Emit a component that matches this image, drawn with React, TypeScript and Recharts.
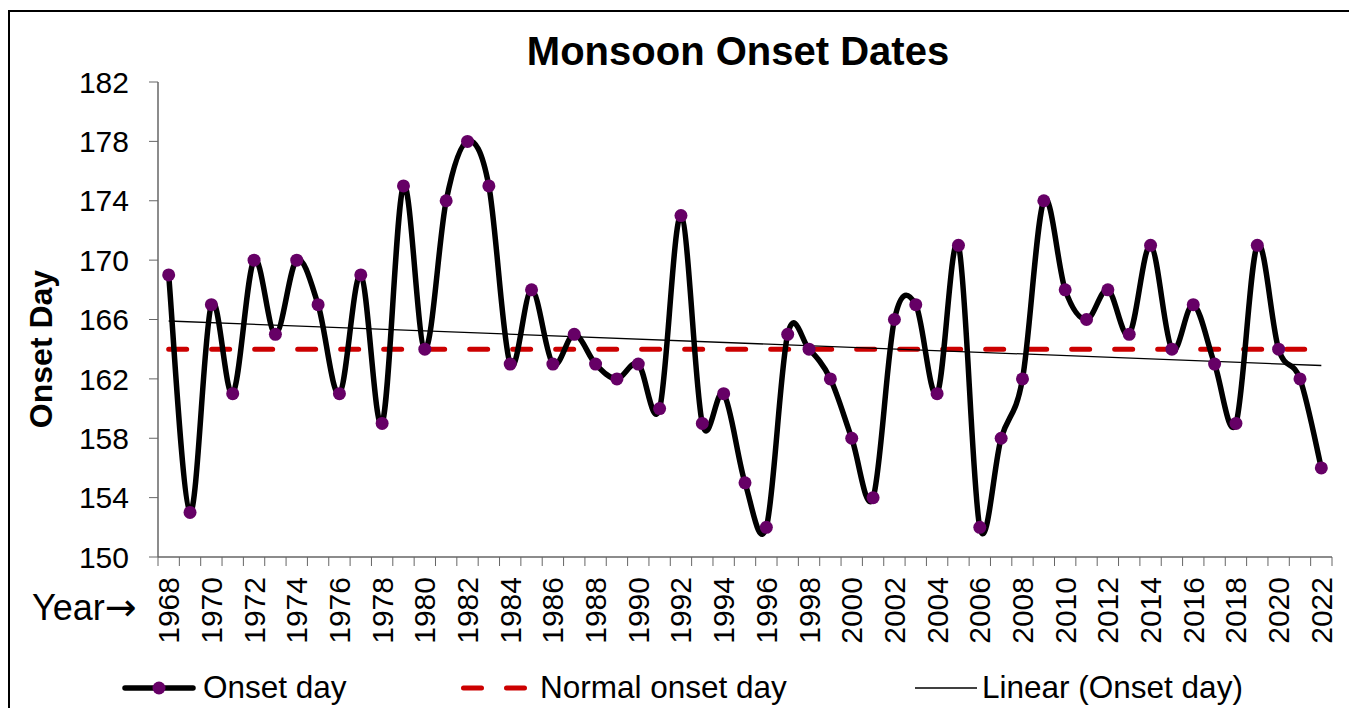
import React from "react";
import { ComposedChart, Line, XAxis, YAxis } from "recharts";

const years = [
  1968, 1969, 1970, 1971, 1972, 1973, 1974, 1975, 1976, 1977, 1978, 1979, 1980, 1981,
  1982, 1983, 1984, 1985, 1986, 1987, 1988, 1989, 1990, 1991, 1992, 1993, 1994, 1995,
  1996, 1997, 1998, 1999, 2000, 2001, 2002, 2003, 2004, 2005, 2006, 2007, 2008, 2009,
  2010, 2011, 2012, 2013, 2014, 2015, 2016, 2017, 2018, 2019, 2020, 2021, 2022,
];

const onsetDays = [
  169, 153, 167, 161, 170, 165, 170, 167, 161, 169, 159, 175, 164, 174,
  178, 175, 163, 168, 163, 165, 163, 162, 163, 160, 173, 159, 161, 155,
  152, 165, 164, 162, 158, 154, 166, 167, 161, 171, 152, 158, 162, 174,
  168, 166, 168, 165, 171, 164, 167, 163, 159, 171, 164, 162, 156,
];

const normalOnset = 164;
// trend line end values (first year, last year)
const trendEnds = [165.9, 162.9];

const yTicks = [150, 154, 158, 162, 166, 170, 174, 178, 182];
const labelYears = years.filter((y) => y % 2 === 0);
const boundaryTicks = [...years.map((y) => y - 0.5), years[years.length - 1] + 0.5];

const data = years.map((year, i) => ({
  year,
  onset: onsetDays[i],
  normal: normalOnset,
  trend: i === 0 ? trendEnds[0] : i === years.length - 1 ? trendEnds[1] : null,
}));

const FONT = "'Liberation Sans', Arial, sans-serif";
const AXIS = "#666";

// Excel-style smoothed line (Catmull-Rom bezier)
function excelSmooth(context: any) {
  let pts: number[][] = [];
  return {
    areaStart() {},
    areaEnd() {},
    lineStart() {
      pts = [];
    },
    point(x: number, y: number) {
      pts.push([+x, +y]);
    },
    lineEnd() {
      const n = pts.length;
      if (!n) return;
      context.moveTo(pts[0][0], pts[0][1]);
      for (let i = 0; i < n - 1; i++) {
        const p0 = pts[Math.max(i - 1, 0)];
        const p1 = pts[i];
        const p2 = pts[i + 1];
        const p3 = pts[Math.min(i + 2, n - 1)];
        context.bezierCurveTo(
          p1[0] + (p2[0] - p0[0]) / 6,
          p1[1] + (p2[1] - p0[1]) / 6,
          p2[0] - (p3[0] - p1[0]) / 6,
          p2[1] - (p3[1] - p1[1]) / 6,
          p2[0],
          p2[1]
        );
      }
    },
  };
}

function YearTick(props: any) {
  const { x, y, payload } = props;
  const v = payload.value;
  if (!Number.isInteger(v)) {
    return <line x1={x} x2={x} y1={y} y2={y + 9} stroke={AXIS} strokeWidth={1} />;
  }
  return (
    <text
      transform={`translate(${x},${y + 20}) rotate(-90)`}
      textAnchor="end"
      dy="0.35em"
      fontSize={30}
      fontFamily={FONT}
      fill="#000"
    >
      {v}
    </text>
  );
}

const ticksAll = [...boundaryTicks, ...labelYears].sort((a, b) => a - b);

export default function App() {
  return (
    <div style={{ position: "relative", width: 1349, height: 700 }}>
      <div
        style={{
          position: "absolute",
          left: 0,
          top: 2,
          width: 1342,
          height: 800,
          border: "2px solid #000",
        }}
      />
      <div style={{ position: "absolute", left: 0, top: 0 }}>
        <ComposedChart
          width={1349}
          height={700}
          data={data}
          margin={{ top: 74, right: 25, left: 0, bottom: 0 }}
        >
          <XAxis
            dataKey="year"
            type="number"
            domain={[1967.5, 2022.5]}
            ticks={ticksAll}
            interval={0}
            height={151}
            tickSize={0}
            tickMargin={0}
            tickLine={false}
            tick={<YearTick />}
            axisLine={{ stroke: AXIS, strokeWidth: 1.5 }}
          />
          <YAxis
            domain={[150, 182]}
            ticks={yTicks}
            interval={0}
            width={150}
            tickSize={9}
            tickMargin={20}
            tick={{ fontSize: 30, fontFamily: FONT, fill: "#000" }}
            axisLine={{ stroke: AXIS, strokeWidth: 1.5 }}
            tickLine={{ stroke: AXIS }}
          />
          <Line
            dataKey="normal"
            stroke="#cc0000"
            strokeWidth={5}
            strokeDasharray="18 25"
            strokeLinecap="round"
            dot={false}
            activeDot={false}
            isAnimationActive={false}
          />
          <Line
            dataKey="onset"
            type={excelSmooth as any}
            stroke="#000"
            strokeWidth={5.5}
            dot={{ r: 6.5, fill: "#660066", stroke: "none" }}
            activeDot={false}
            isAnimationActive={false}
          />
          <Line
            dataKey="trend"
            type="linear"
            connectNulls
            stroke="#000"
            strokeWidth={1.3}
            dot={false}
            activeDot={false}
            isAnimationActive={false}
          />
        </ComposedChart>
      </div>
      <svg
        width={1349}
        height={700}
        style={{ position: "absolute", left: 0, top: 0, pointerEvents: "none" }}
        fontFamily={FONT}
      >
        <text x={730} y={57} textAnchor="middle" fontSize={40} fontWeight="bold" fill="#000">
          Monsoon Onset Dates
        </text>
        <text
          transform="translate(44,341) rotate(-90)"
          textAnchor="middle"
          fontSize={32}
          fontWeight="bold"
          fill="#000"
        >
          Onset Day
        </text>
        <text x={24} y={612} fontSize={36} fill="#000">
          Year<tspan fontFamily="'DejaVu Sans', sans-serif" fontSize={38}>→</tspan>
        </text>
        <line x1={117} x2={185} y1={680} y2={680} stroke="#000" strokeWidth={5.5} strokeLinecap="round" />
        <circle cx={151} cy={680} r={6.5} fill="#660066" />
        <text x={195} y={690} fontSize={31.5} fill="#000">
          Onset day
        </text>
        <line
          x1={455.5}
          x2={517.5}
          y1={680}
          y2={680}
          stroke="#cc0000"
          strokeWidth={5}
          strokeDasharray="18 25"
          strokeLinecap="round"
        />
        <text x={532} y={690} fontSize={31.5} fill="#000">
          Normal onset day
        </text>
        <line x1={907} x2={969} y1={680} y2={680} stroke="#000" strokeWidth={1.5} />
        <text x={974} y={690} fontSize={31.5} fill="#000">
          Linear (Onset day)
        </text>
      </svg>
    </div>
  );
}
